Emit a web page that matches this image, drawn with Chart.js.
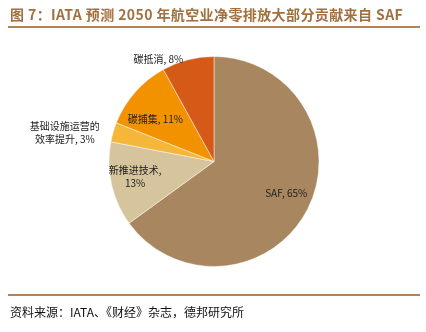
<!DOCTYPE html>
<html>
<head>
<meta charset="utf-8">
<script src="https://cdn.jsdelivr.net/npm/chart.js@4"></script>
<style>
  html, body { margin: 0; padding: 0; background: #fff; }
  #wrap { position: relative; width: 426px; height: 332px; overflow: hidden; }
  #c { position: absolute; left: 0; top: 0; }
  .title { position: absolute; left: 10px; top: 4px; font-family: "Noto Sans CJK SC", sans-serif; font-weight: bold; font-size: 14px; color: #A0703F; white-space: nowrap; letter-spacing: 0.4px; }
  .rule { position: absolute; left: 8px; width: 412px; height: 2px; background: #B08458; }
  .src { position: absolute; left: 10px; top: 303px; font-family: "Noto Sans CJK SC", sans-serif; font-size: 12px; color: #111; white-space: nowrap; }
</style>
</head>
<body>
<div id="wrap">
  <canvas id="c" width="426" height="332"></canvas>
  <div class="title">图 7：IATA 预测 2050 年航空业净零排放大部分贡献来自 SAF</div>
  <div class="rule" style="top:26px"></div>
  <div class="rule" style="top:294px"></div>
  <div class="src">资料来源：IATA、《财经》杂志，德邦研究所</div>
</div>
<script>
const categories = ["SAF", "新推进技术", "基础设施运营的效率提升", "碳捕集", "碳抵消"];
const shares = [65, 13, 3, 11, 8];
const labelLines = [
  ["SAF, 65%"],
  ["新推进技术,", "13%"],
  ["基础设施运营的", "效率提升, 3%"],
  ["碳捕集, 11%"],
  ["碳抵消, 8%"]
];
const colors = ["#A8865F", "#D6C49D", "#F4B73A", "#F39200", "#D65A17"];

// label placement: radius factor and pixel nudge per slice (style only)
const labelPos = [
  { f: 0.75, dx: 2, dy: -4 },
  { f: 0.76, dx: -1, dy: -2 },
  { f: 1.45, dx: -3, dy: 14 },
  { f: 0.72, dx: -2, dy: 8 },
  { f: 1.10, dx: -27, dy: 10 }
];

const labelPlugin = {
  id: 'sliceLabels',
  afterDatasetsDraw(chart) {
    const ctx = chart.ctx;
    const meta = chart.getDatasetMeta(0);
    ctx.save();
    ctx.font = '10px "Noto Sans CJK SC", sans-serif';
    ctx.fillStyle = '#222';
    ctx.textAlign = 'center';
    ctx.textBaseline = 'middle';
    meta.data.forEach((arc, i) => {
      const p = arc.getProps(['x', 'y', 'startAngle', 'endAngle', 'outerRadius'], true);
      const mid = (p.startAngle + p.endAngle) / 2;
      const lp = labelPos[i];
      const cx = p.x + Math.cos(mid) * p.outerRadius * lp.f + lp.dx;
      const cy = p.y + Math.sin(mid) * p.outerRadius * lp.f + lp.dy;
      const lines = labelLines[i];
      const lh = 13;
      lines.forEach((t, k) => {
        ctx.fillText(t, cx, cy + (k - (lines.length - 1) / 2) * lh);
      });
    });
    ctx.restore();
  }
};

new Chart(document.getElementById('c'), {
  type: 'pie',
  data: {
    labels: categories,
    datasets: [{
      data: shares,
      backgroundColor: colors,
      borderColor: 'rgba(255,255,255,0.45)',
      borderWidth: 1
    }]
  },
  options: {
    responsive: false,
    animation: false,
    layout: { padding: { top: 56, bottom: 65, left: 108.5, right: 106.5 } },
    plugins: {
      legend: { display: false },
      tooltip: { enabled: false },
      title: { display: false }
    }
  },
  plugins: [labelPlugin]
});
</script>
</body>
</html>
